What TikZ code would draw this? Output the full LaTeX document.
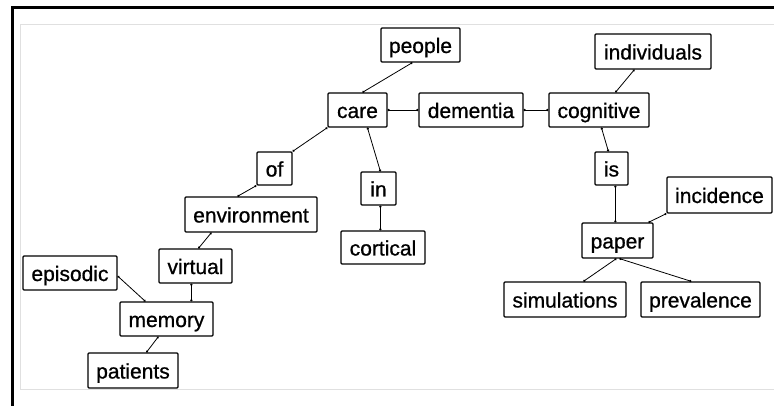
\documentclass[tikz,border=0pt]{standalone}
\usepackage{fontspec}
\setmainfont{Liberation Sans}
\newfontfamily\lblfont{Liberation Sans}[FakeBold=0.8]
\usetikzlibrary{calc,arrows.meta}
\begin{document}
\begin{tikzpicture}[x=1pt,y=-1pt,
  box/.style={draw, line width=1.2pt, rounded corners=1pt, inner sep=0pt,
    text height=17pt, text depth=1pt, minimum height=34pt,
    font=\lblfont\fontsize{21}{24}\selectfont, anchor=center},
  link/.style={line width=0.8pt, {Circle[length=2.2pt]}-{Circle[length=2.2pt]}}]
\useasboundingbox (0,0) rectangle (774,406);
\fill[white] (0,0) rectangle (774,406);
\draw[black!12, line width=1pt] (774,25) -- (20.5,25) -- (20.5,389) -- (774,389);
\draw[line width=3pt] (12.5,406) -- (12.5,7.8) -- (774,7.8);

\node[box, minimum width=59] (care) at (357.5,110) {care};
\node[box, minimum width=79] (people) at (420.5,45) {people};
\node[box, minimum width=104] (dementia) at (471,110) {dementia};
\node[box, minimum width=100] (cognitive) at (599,110) {cognitive};
\node[box, minimum width=116, minimum height=35] (individuals) at (653,51.5) {individuals};
\node[box, minimum width=33, minimum height=33] (is) at (611.5,168.5) {is};
\node[box, minimum width=105, minimum height=36] (incidence) at (719.5,195) {incidence};
\node[box, minimum width=71, minimum height=35] (paper) at (617.5,240.5) {paper};
\node[box, minimum width=122, minimum height=35] (simulations) at (565,299.5) {simulations};
\node[box, minimum width=119, minimum height=35] (prevalence) at (700.5,299.5) {prevalence};
\node[box, minimum width=35, minimum height=33] (of) at (274.5,168.5) {of};
\node[box, minimum width=35, minimum height=33] (in) at (378.5,188.5) {in};
\node[box, minimum width=84, minimum height=33] (cortical) at (383,247.5) {cortical};
\node[box, minimum width=132, minimum height=35] (environment) at (251,214.5) {environment};
\node[box, minimum width=73] (virtual) at (195.5,266) {virtual};
\node[box, minimum width=94] (episodic) at (70,273) {episodic};
\node[box, minimum width=93] (memory) at (166.5,319) {memory};
\node[box, minimum width=90, minimum height=35] (patients) at (133,370.5) {patients};

\draw[link] ($(care.north west)+(35,0)$) -- ($(people.south west)+(32,0)$);
\draw[link] (care.east) -- (dementia.west);
\draw[link] (dementia.east) -- (cognitive.west);
\draw[link] ($(cognitive.north west)+(67,0)$) -- ($(individuals.south west)+(40,0)$);
\draw[link] ($(cognitive.south west)+(53,0)$) -- ($(is.north west)+(14,0)$);
\draw[link] ($(is.south west)+(21,0)$) -- ($(paper.north west)+(34,0)$);
\draw[link] ($(paper.north west)+(67,0)$) -- (incidence.south west);
\draw[link] ($(paper.south west)+(35,0)$) -- ($(simulations.north west)+(80,0)$);
\draw[link] ($(paper.south west)+(38,0)$) -- ($(prevalence.north west)+(51,0)$);
\draw[link] (care.south west) -- (of.north east);
\draw[link] ($(care.south west)+(40,0)$) -- ($(in.north west)+(20,0)$);
\draw[link] ($(in.south west)+(20,0)$) -- ($(cortical.north west)+(40,0)$);
\draw[link] (of.south west) -- ($(environment.north west)+(53,0)$);
\draw[link] ($(environment.south west)+(27,0)$) -- ($(virtual.north west)+(40,0)$);
\draw[link] ($(virtual.south west)+(33,0)$) -- ($(memory.north west)+(72,0)$);
\draw[link] ($(episodic.east)+(0,3)$) -- ($(memory.north west)+(26,0)$);
\draw[link] ($(memory.south west)+(39,0)$) -- ($(patients.north west)+(59,0)$);
\end{tikzpicture}
\end{document}
